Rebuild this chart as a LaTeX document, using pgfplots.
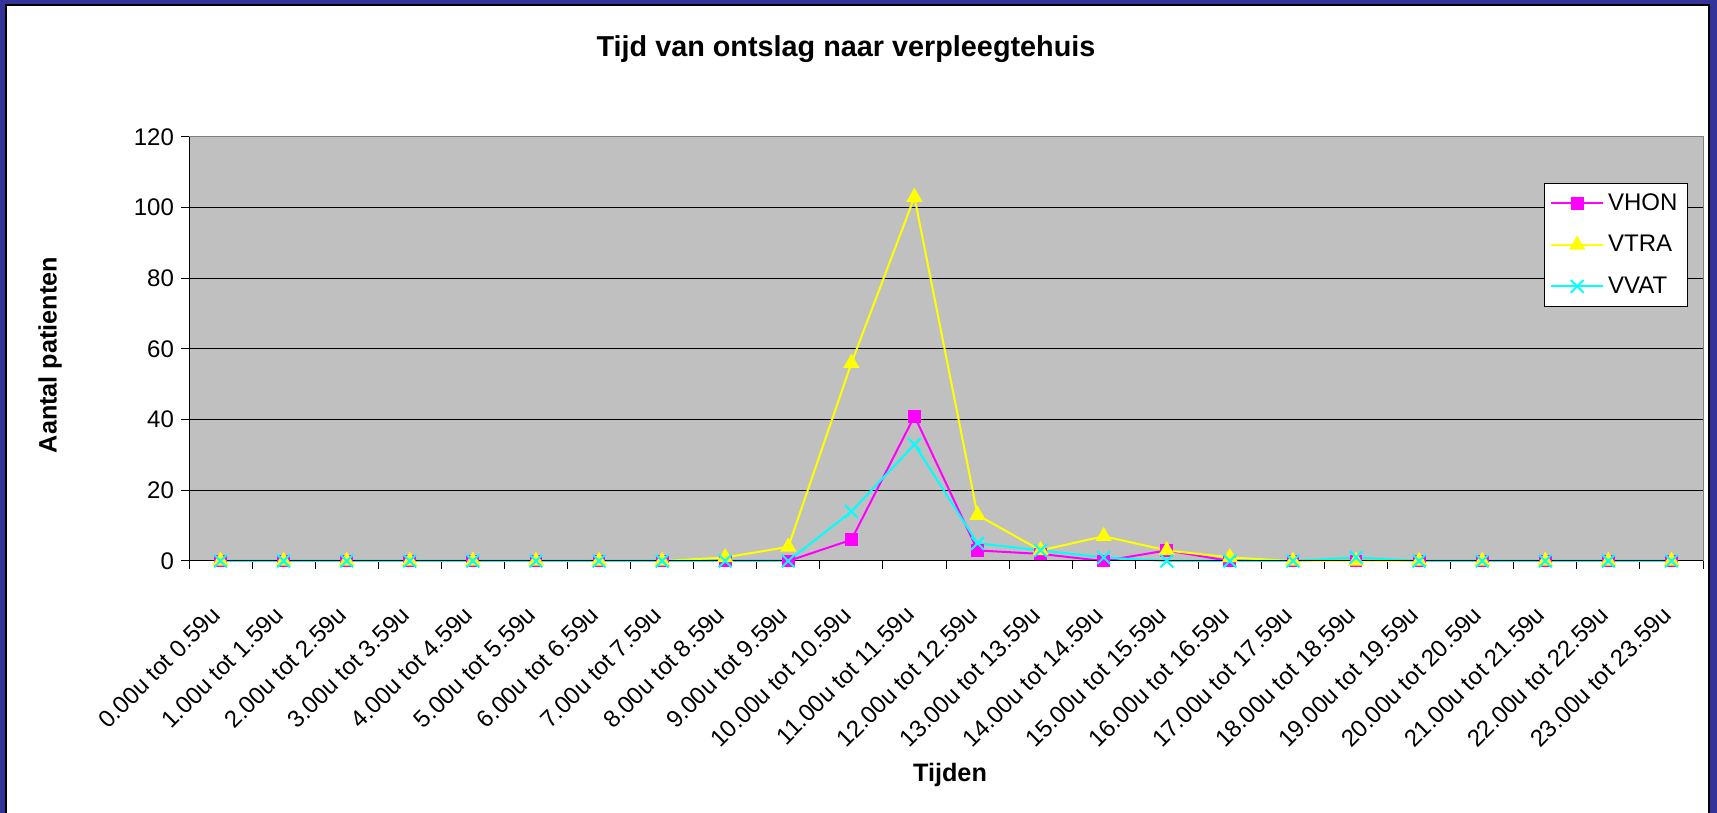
\documentclass[border=0pt]{standalone}
\usepackage{pgfplots}
\pgfplotsset{compat=1.18}
\usepackage{fontspec}
\setmainfont{Liberation Sans}
\definecolor{frameblue}{RGB}{51,51,153}
\definecolor{plotgray}{RGB}{192,192,192}
\definecolor{vhon}{RGB}{255,0,255}
\definecolor{vtra}{RGB}{255,255,0}
\definecolor{vvat}{RGB}{0,255,255}
\begin{document}
\begin{tikzpicture}
\useasboundingbox (0,0) rectangle (858.5pt,406.5pt);
% window frame
\fill[frameblue] (0,0) rectangle (858.5pt,406.5pt);
\fill[black] (2.5pt,0) rectangle (855pt,404.5pt);
\fill[white] (3.5pt,0) rectangle (854pt,403.5pt);
\begin{axis}[
  at={(94.5pt,126pt)}, anchor=south west,
  scale only axis, width=757pt, height=212pt,
  xmin=-0.5, xmax=23.5, ymin=0, ymax=120,
  clip=false,
  axis background/.style={fill=plotgray},
  axis line style={gray, line width=0.5pt},
  xtick={0,...,23},
  xticklabels={0.00u tot 0.59u,1.00u tot 1.59u,2.00u tot 2.59u,3.00u tot 3.59u,
    4.00u tot 4.59u,5.00u tot 5.59u,6.00u tot 6.59u,7.00u tot 7.59u,
    8.00u tot 8.59u,9.00u tot 9.59u,10.00u tot 10.59u,11.00u tot 11.59u,
    12.00u tot 12.59u,13.00u tot 13.59u,14.00u tot 14.59u,15.00u tot 15.59u,
    16.00u tot 16.59u,17.00u tot 17.59u,18.00u tot 18.59u,19.00u tot 19.59u,
    20.00u tot 20.59u,21.00u tot 21.59u,22.00u tot 22.59u,23.00u tot 23.59u},
  minor xtick={-0.5,0.5,...,23.5},
  major x tick style={draw=none},
  ytick={0,20,...,120},
  xtick pos=bottom, ytick pos=left,
  tick align=outside, major tick length=4pt, minor tick length=4pt,
  tick style={black, line width=0.5pt},
  ymajorgrids, major grid style={black, line width=0.5pt},
  ticklabel style={font=\fontsize{12}{14}\selectfont},
  /pgf/number format/assume math mode=true,
  xticklabel style={xshift=-1.5pt, yshift=-20pt, rotate=45, anchor=east, inner sep=1pt},
  legend style={at={(0.99,0.8915)}, anchor=north east, draw=black, fill=white,
    font=\fontsize{12}{14}\selectfont, row sep=7pt, inner sep=3pt},
  legend cell align=left,
  legend image code/.code={\draw[mark repeat=2,mark phase=2,#1]
    plot coordinates {(0pt,0pt)(13pt,0pt)(26pt,0pt)};},
]
\addplot[vhon, line width=1pt, mark=square*, mark size=2.7pt, mark options={solid}]
  coordinates {(0,0)(1,0)(2,0)(3,0)(4,0)(5,0)(6,0)(7,0)(8,0)(9,0)(10,6)(11,41)
    (12,3)(13,2)(14,0)(15,3)(16,0)(17,0)(18,0)(19,0)(20,0)(21,0)(22,0)(23,0)};
\addlegendentry{VHON}
\addplot[vtra, line width=1pt, mark=triangle*, mark size=3.7pt, mark options={solid}]
  coordinates {(0,0)(1,0)(2,0)(3,0)(4,0)(5,0)(6,0)(7,0)(8,1)(9,4)(10,56)(11,103)
    (12,13)(13,3)(14,7)(15,3)(16,1)(17,0)(18,0)(19,0)(20,0)(21,0)(22,0)(23,0)};
\addlegendentry{VTRA}
\addplot[vvat, line width=1pt, mark=x, mark size=4.5pt, mark options={solid}]
  coordinates {(0,0)(1,0)(2,0)(3,0)(4,0)(5,0)(6,0)(7,0)(8,0)(9,0)(10,14)(11,33)
    (12,5)(13,3)(14,1)(15,0)(16,0)(17,0)(18,1)(19,0)(20,0)(21,0)(22,0)(23,0)};
\addlegendentry{VVAT}
\draw[black, line width=0.5pt] (rel axis cs:0,1) -- (rel axis cs:0,0) -- (rel axis cs:1,0);
\end{axis}
\node[anchor=base, font=\bfseries\fontsize{14.4}{17}\selectfont, inner sep=0pt]
  at (423pt,378pt) {Tijd van ontslag naar verpleegtehuis};
\node[anchor=base, font=\bfseries\fontsize{12.6}{15}\selectfont, inner sep=0pt]
  at (475pt,15.5pt) {Tijden};
\node[anchor=base, rotate=90, font=\bfseries\fontsize{12.6}{15}\selectfont, inner sep=0pt]
  at (28.3pt,229pt) {Aantal patienten};
\end{tikzpicture}
\end{document}
